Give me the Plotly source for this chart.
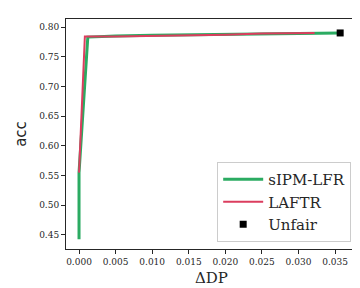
import plotly.graph_objects as go

# Data
sipm_dp = [0.0, 0.0, 0.0012, 0.005, 0.010, 0.020, 0.030, 0.0357]
sipm_acc = [0.443, 0.555, 0.783, 0.785, 0.786, 0.787, 0.789, 0.790]
laftr_dp = [0.0, 0.0008, 0.005, 0.010, 0.015, 0.020, 0.025, 0.0322]
laftr_acc = [0.555, 0.784, 0.784, 0.785, 0.785, 0.787, 0.789, 0.790]
unfair_dp = [0.0357]
unfair_acc = [0.790]
xticks = [0.0, 0.005, 0.010, 0.015, 0.020, 0.025, 0.030, 0.035]
yticks = [0.45, 0.50, 0.55, 0.60, 0.65, 0.70, 0.75, 0.80]

GREEN = "#2bab62"
RED = "#db3d5e"

fig = go.Figure()
fig.add_trace(go.Scatter(x=sipm_dp, y=sipm_acc, mode="lines", name="sIPM-LFR",
                         line=dict(color=GREEN, width=3)))
fig.add_trace(go.Scatter(x=laftr_dp, y=laftr_acc, mode="lines", name="LAFTR",
                         line=dict(color=RED, width=2)))
fig.add_trace(go.Scatter(x=unfair_dp, y=unfair_acc, mode="markers", name="Unfair",
                         marker=dict(color="black", symbol="square", size=7)))

axis_common = dict(showline=True, linecolor="#262626", linewidth=1, mirror=True,
                   ticks="outside", ticklen=4, tickcolor="#262626", showgrid=False,
                   zeroline=False, automargin=False,
                   tickfont=dict(family="DejaVu Serif", size=9, color="#262626"))

fig.update_layout(
    width=360, height=288,
    margin=dict(l=58, r=11, t=11, b=47),
    paper_bgcolor="white", plot_bgcolor="white",
    xaxis=dict(range=[-0.00178, 0.0380], tickvals=xticks,
               ticktext=[f"{v:.3f}" for v in xticks],
               title=dict(text="ΔDP", font=dict(family="DejaVu Serif", size=15, color="#262626"), standoff=6),
               **axis_common),
    yaxis=dict(range=[0.4264, 0.8135], tickvals=yticks,
               ticktext=[f"{v:.2f}" for v in yticks],
               title=dict(text="acc", font=dict(family="DejaVu Sans", size=15, color="#262626"), standoff=8),
               **axis_common),
    legend=dict(x=0.98, y=0.03, xanchor="right", yanchor="bottom",
                bgcolor="rgba(255,255,255,0.8)", bordercolor="#cccccc", borderwidth=1,
                font=dict(family="DejaVu Serif", size=15, color="#262626"),
                itemwidth=40, tracegroupgap=0),
    showlegend=True,
)

fig.write_html("out.html")
